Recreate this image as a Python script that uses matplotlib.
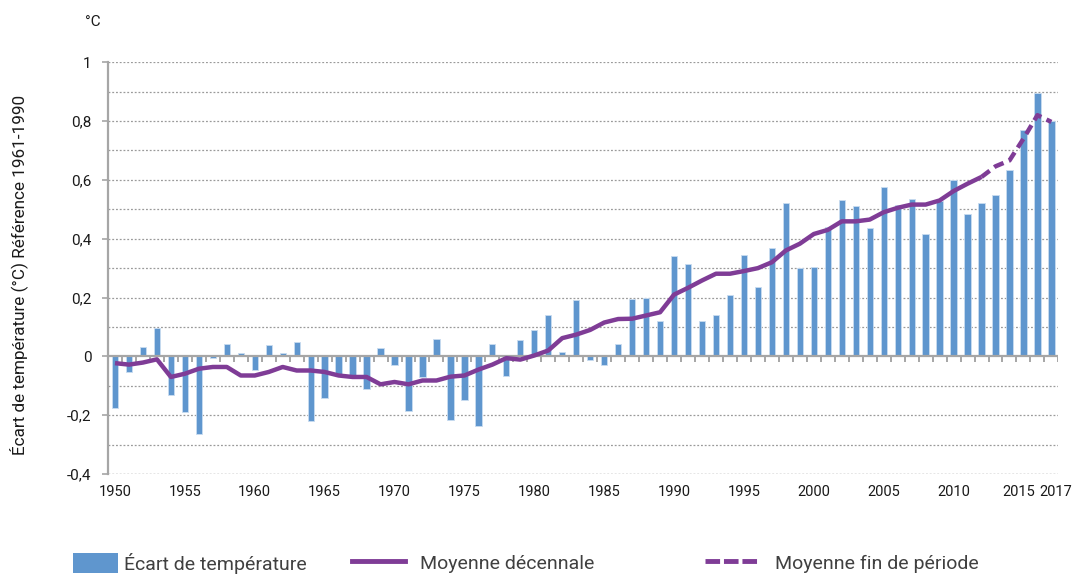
import matplotlib
matplotlib.use("Agg")
import matplotlib.pyplot as plt
import matplotlib.transforms as mtransforms
from matplotlib.lines import Line2D
from matplotlib.patches import Patch
from matplotlib.ticker import FuncFormatter, MultipleLocator

years = list(range(1950, 2018))
ecart = [
    -0.175, -0.053, 0.032, 0.098, -0.13, -0.19, -0.263, -0.006, 0.043, 0.013,
    -0.048, 0.037, 0.013, 0.05, -0.22, -0.143, -0.06, -0.065, -0.11, 0.03,
    -0.03, -0.185, -0.07, 0.06, -0.215, -0.147, -0.238, 0.043, -0.065, 0.054,
    0.09, 0.14, 0.014, 0.193, -0.011, -0.028, 0.043, 0.194, 0.2, 0.12,
    0.34, 0.315, 0.12, 0.14, 0.21, 0.344, 0.235, 0.37, 0.523, 0.30,
    0.305, 0.44, 0.53, 0.51, 0.435, 0.575, 0.515, 0.535, 0.415, 0.527,
    0.60, 0.485, 0.52, 0.55, 0.634, 0.77, 0.895, 0.80,
]
dec_years = list(range(1950, 2013))
moyenne_dec = [
    -0.023, -0.028, -0.021, -0.01, -0.07, -0.059, -0.042, -0.036, -0.036, -0.065,
    -0.065, -0.053, -0.036, -0.048, -0.048, -0.053, -0.065, -0.07, -0.07, -0.095,
    -0.087, -0.095, -0.082, -0.082, -0.069, -0.065, -0.045, -0.028, -0.006, -0.011,
    0.003, 0.02, 0.062, 0.074, 0.09, 0.115, 0.127, 0.128, 0.139, 0.15,
    0.21, 0.233, 0.258, 0.281, 0.281, 0.29, 0.30, 0.32, 0.36, 0.383,
    0.416, 0.43, 0.459, 0.459, 0.465, 0.49, 0.505, 0.516, 0.516, 0.53,
    0.562, 0.587, 0.61,
]
fin_years = [2012, 2013, 2014, 2015, 2016, 2017]
moyenne_fin = [0.61, 0.646, 0.666, 0.74, 0.82, 0.797]
xtick_years = [1950, 1955, 1960, 1965, 1970, 1975, 1980, 1985, 1990, 1995,
               2000, 2005, 2010, 2015, 2017]

bar_color = "#5F96CE"
line_color = "#7F3C96"
text_color = "#1a1a1a"
grid_color = "#9a9a9a"

plt.rcParams['font.family'] = ['Roboto', 'DejaVu Sans']

fig = plt.figure(figsize=(10.8, 5.76), dpi=100)
ax = fig.add_axes([0.1, 0.177, 0.88, 0.715])

ax.set_xlim(1949.5, 2017.5)
ax.set_ylim(-0.4, 1.0)

# gridlines
ax.yaxis.set_major_locator(MultipleLocator(0.2))
ax.yaxis.set_minor_locator(MultipleLocator(0.1))
for v in [i / 10 for i in range(-4, 11)]:
    if abs(v) < 1e-9:
        continue
    ax.axhline(v, color=grid_color, lw=0.9, ls=(0, (1.5, 1.5)), zorder=0)

ax.bar(years, ecart, width=0.45, color=bar_color, zorder=2,
       edgecolor="#c9dcf0", linewidth=0.6)

# zero axis line with category tick marks
ax.axhline(0, color="#a6a6a6", lw=1.6, zorder=3)
bounds = [y - 0.5 for y in years] + [years[-1] + 0.5]
ax.vlines(bounds, [-0.018] * len(bounds), [0] * len(bounds),
          color="#a6a6a6", lw=1.4, zorder=3)

ax.plot(dec_years, moyenne_dec, color=line_color, lw=3.2, zorder=4,
        solid_capstyle='butt', solid_joinstyle='round')
ax.plot(fin_years, moyenne_fin, color=line_color, lw=3.2, zorder=4,
        ls=(0, (2.3, 1.3)))

for s in ['top', 'right']:
    ax.spines[s].set_visible(False)
ax.spines['left'].set_color("#a6a6a6")
ax.spines['left'].set_linewidth(1.6)
ax.spines['bottom'].set_visible(False)
ax.axhline(-0.4, color=grid_color, lw=0.9, ls=(0, (1.5, 1.5)), zorder=0)

ax.set_xticks(xtick_years)
ax.set_xticklabels([str(y) for y in xtick_years])
ax.tick_params(axis='x', length=0, pad=8, labelsize=10.5, colors=text_color)
ax.tick_params(axis='y', which='major', length=4, width=1.2, color="#a6a6a6",
               labelsize=11, labelcolor=text_color, pad=8)
ax.tick_params(axis='y', which='minor', length=0)
# nudge the crowded last two labels apart
xlabels = ax.get_xticklabels()
xlabels[-2].set_transform(xlabels[-2].get_transform() +
                          mtransforms.ScaledTranslation(-0.05, 0, fig.dpi_scale_trans))
xlabels[-1].set_transform(xlabels[-1].get_transform() +
                          mtransforms.ScaledTranslation(0.04, 0, fig.dpi_scale_trans))

def fmt(v, pos):
    s = f"{v:.1f}".replace('.', ',')
    if s.endswith(',0'):
        s = s[:-2]
    if s == '-0':
        s = '0'
    return s
ax.yaxis.set_major_formatter(FuncFormatter(fmt))

fig.text(0.086, 0.962, "°C", ha='center', va='center', fontsize=11, color=text_color)
fig.text(0.017, 0.522, "Écart de température (°C) Référence 1961-1990", rotation=90,
         ha='center', va='center', fontsize=12.3, color=text_color)

# legend entries, placed as in the reference
leg_specs = [
    (Patch(facecolor=bar_color, edgecolor='none'), "Écart de température",
     73, 2.3, 0.3),
    (Line2D([0], [0], color=line_color, lw=3.5), "Moyenne décennale",
     352, 2.75, 0.75),
    (Line2D([0], [0], color=line_color, lw=3.5, ls=(0, (3, 0.8))),
     "Moyenne fin de période", 705, 2.85, 0.75),
]
for h, lab, xpix, hl, pad in leg_specs:
    lg = fig.legend([h], [lab], loc='center left',
                    bbox_to_anchor=(xpix / 1080, 1 - 563 / 576),
                    frameon=False, fontsize=14, handlelength=hl,
                    handleheight=1.2, handletextpad=pad, borderpad=0,
                    borderaxespad=0)
    for t in lg.get_texts():
        t.set_color("#404040")

fig.savefig("out.png", dpi=100)
